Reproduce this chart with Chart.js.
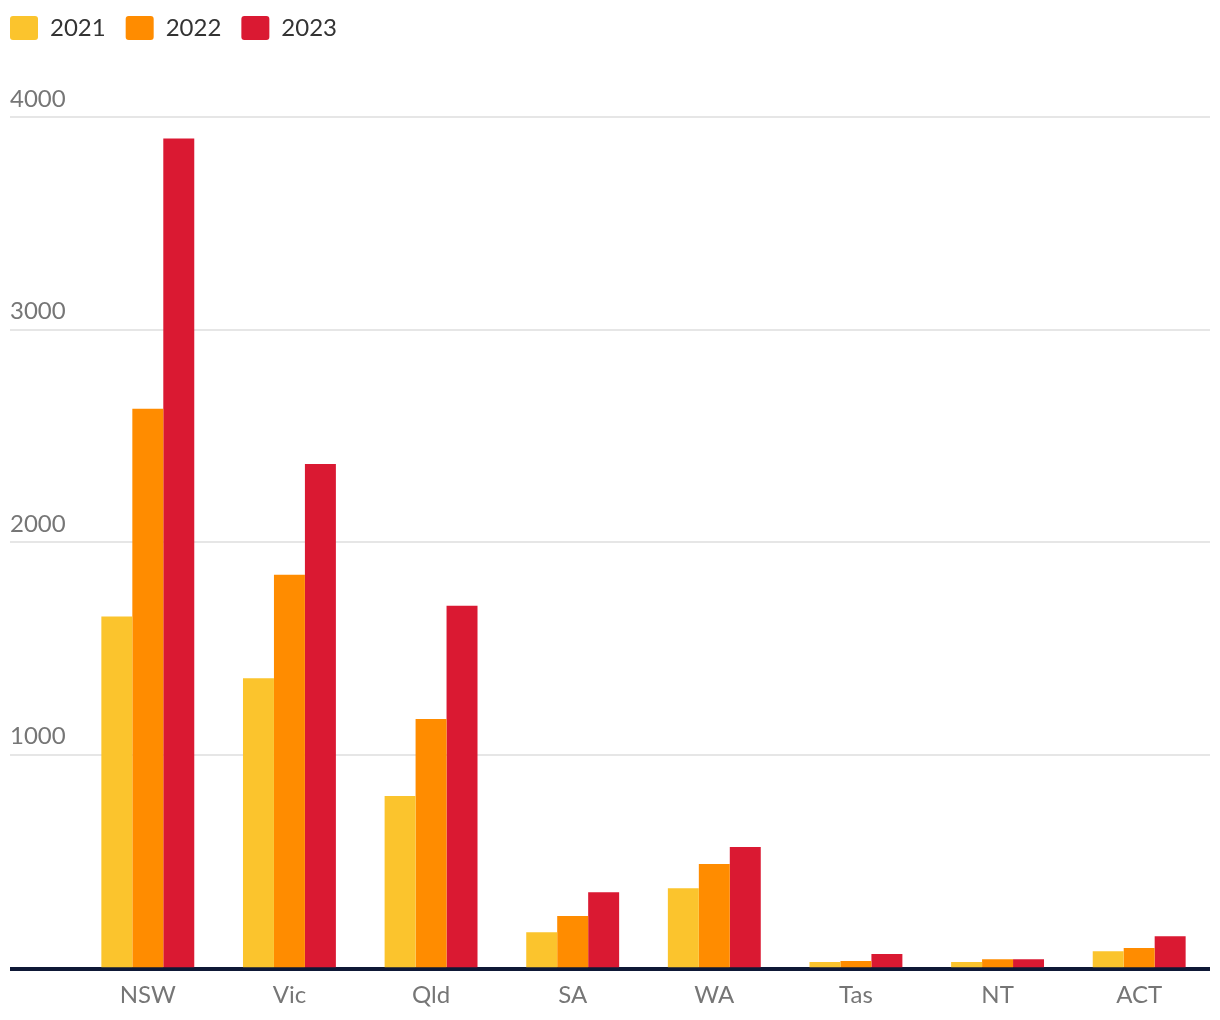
<!DOCTYPE html>
<html>
<head>
<meta charset="utf-8">
<script src="https://cdn.jsdelivr.net/npm/chart.js@4"></script>
<style>
  html, body { margin: 0; padding: 0; background: #fff; }
  #wrap { width: 1220px; height: 1020px; }
</style>
</head>
<body>
<div id="wrap"><canvas id="barChart"></canvas></div>
<script>
const states = ['NSW', 'Vic', 'Qld', 'SA', 'WA', 'Tas', 'NT', 'ACT'];
const years = ['2021', '2022', '2023'];
const values2021 = [1650, 1360, 805, 165, 372, 24, 24, 75];
const values2022 = [2627, 1846, 1168, 241, 485, 29, 38, 90];
const values2023 = [3899, 2368, 1700, 353, 565, 62, 38, 146];
const yTicks = [1000, 2000, 3000, 4000];

let colors = ['#FBC42D', '#FF8C00', '#DA1932'];
const seriesValues = [values2021, values2022, values2023];

Chart.defaults.font.family = 'Lato';

// the legend needs the wide gap between items but starts flush with the y labels
const legendShift = {
    id: 'legendShift',
    afterLayout(chart) {
        const lg = chart.legend;
        const gap = lg.options.labels.padding;
        lg.left = 10 - gap;
        lg.top = 16 - gap;
    }
};

const ctx = document.getElementById('barChart').getContext('2d');
const barChart = new Chart(ctx, {
    type: 'bar',
    data: {
        labels: states,
        datasets: years.map((y, i) => ({
            label: y,
            data: seriesValues[i],
            backgroundColor: colors[i],
            borderWidth: 0,
            barPercentage: 1,
            categoryPercentage: 0.656
        }))
    },
    plugins: [legendShift],
    options: {
        responsive: true,
        maintainAspectRatio: false,
        animation: false,
        layout: {
            padding: { top: 63, left: 10, right: 10, bottom: -2 }
        },
        plugins: {
            legend: {
                position: 'top',
                align: 'start',
                labels: {
                    boxWidth: 28,
                    boxHeight: 24,
                    padding: 20,
                    color: '#333333',
                    useBorderRadius: true,
                    borderRadius: 3,
                    font: { size: 24 }
                }
            },
            tooltip: { enabled: false }
        },
        scales: {
            x: {
                grid: { display: false, drawTicks: false },
                border: { display: false },
                ticks: {
                    color: '#767676',
                    padding: 12,
                    font: { size: 24 }
                }
            },
            y: {
                min: -9.4,
                max: 4000,
                afterFit: (scale) => { scale.width = 67; },
                afterBuildTicks: (scale) => {
                    scale.ticks = [{ value: scale.min }].concat(yTicks.map(v => ({ value: v })));
                },
                border: { display: false },
                grid: {
                    tickLength: 67,
                    color: (c) => c.tick && c.tick.value < 0 ? '#0E1836' : '#E6E6E6',
                    lineWidth: (c) => c.tick && c.tick.value < 0 ? 4 : 2
                },
                ticks: {
                    crossAlign: 'far',
                    labelOffset: -18,
                    color: '#767676',
                    font: { size: 24 },
                    callback: (value) => value > 0 ? String(value) : ''
                }
            }
        }
    }
});
</script>
</body>
</html>
